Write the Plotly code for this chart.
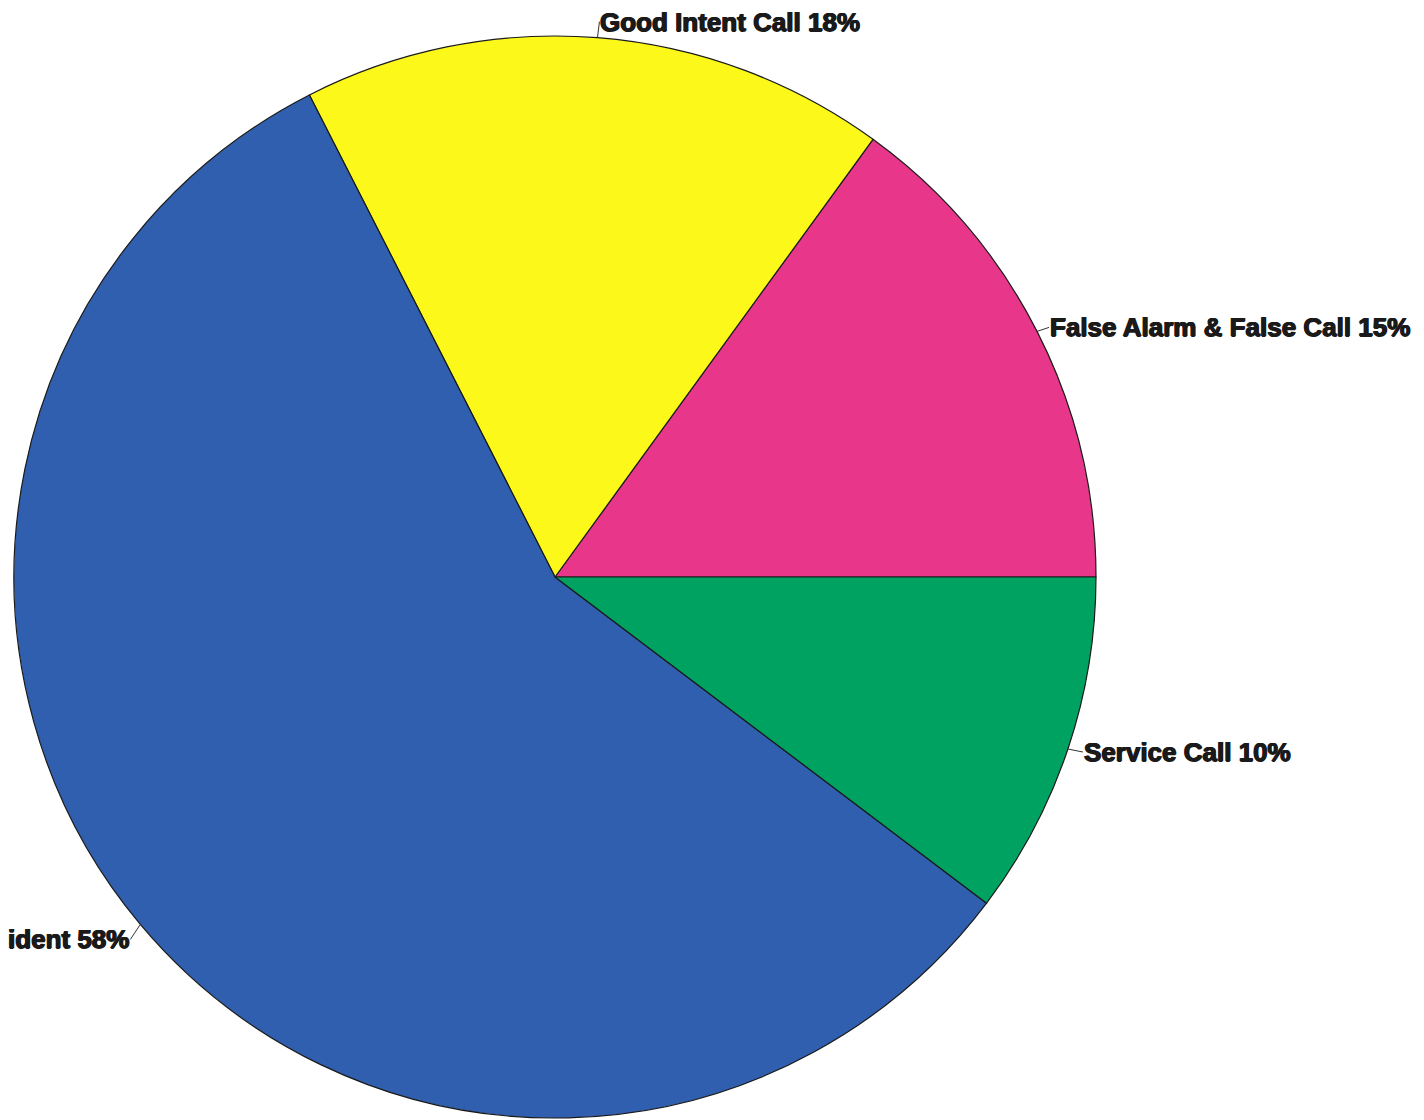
import math
import plotly.graph_objects as go

# Data (order counterclockwise starting at 3 o'clock)
categories = ["False Alarm & False Call", "Good Intent Call",
              "Rescue & Emergency Medical Service Incident", "Service Call"]
values = [15.0, 17.5, 57.2, 10.3]
pct_labels = ["15%", "18%", "58%", "10%"]
colors = ["#E8378B", "#FBF81A", "#2F5FAE", "#00A262"]

PAGE_OFF = 8                 # default html body margin
W, H = 1424 - PAGE_OFF, 1120 - PAGE_OFF
CX, CY, R = 555 - PAGE_OFF, 577 - PAGE_OFF, 541  # pie center/radius (figure px)

total = sum(values)
first_angle = 360 * values[0] / total

fig = go.Figure(go.Pie(
    labels=categories,
    values=values,
    sort=False,
    direction="counterclockwise",
    rotation=90 - first_angle,
    marker=dict(colors=colors, line=dict(color="#1a1a1a", width=1.2)),
    textinfo="none",
    hoverinfo="label+percent",
    domain=dict(x=[(CX - R) / W, (CX + R) / W], y=[1 - (CY + R) / H, 1 - (CY - R) / H]),
    showlegend=False,
))

# label placement: anchor at slice mid-angle on rim, label offset outward
offsets = {
    "False Alarm & False Call": (12, -4, "left"),
    "Good Intent Call": (2, -16, "left"),
    "Rescue & Emergency Medical Service Incident": (-10, 15, "right"),
    "Service Call": (15, 3, "left"),
}
start = 0.0
annotations = []
for cat, v, p in zip(categories, values, pct_labels):
    mid = start + v / total * 360 / 2
    start += v / total * 360
    a = math.radians(mid)
    px = CX + R * math.cos(a)
    py = CY - R * math.sin(a)
    ax, ay, anchor = offsets[cat]
    annotations.append(dict(
        x=px / W, y=1 - py / H, xref="paper", yref="paper",
        text=f"{cat} {p}", showarrow=True, arrowhead=0, arrowwidth=1,
        arrowcolor="#333333", ax=ax, ay=ay, xanchor=anchor, yanchor="middle",
        font=dict(family="Liberation Sans, Arial, sans-serif", size=26, color="#1a1a1a",
                  weight="bold",
                  shadow="0.7px 0 0 #1a1a1a, -0.7px 0 0 #1a1a1a, 0 0.5px 0 #1a1a1a"),
        borderpad=0,
    ))

fig.update_layout(
    width=W, height=H,
    margin=dict(l=0, r=0, t=0, b=0),
    paper_bgcolor="white", plot_bgcolor="white",
    annotations=annotations,
)

fig.write_html("out.html")
